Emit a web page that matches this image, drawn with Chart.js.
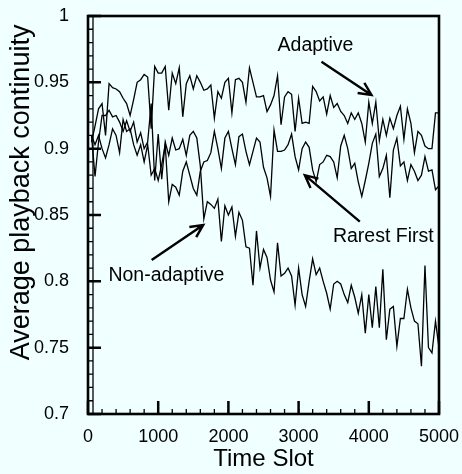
<!DOCTYPE html>
<html>
<head>
<meta charset="utf-8">
<script src="https://cdn.jsdelivr.net/npm/chart.js@4.4.1/dist/chart.umd.min.js"></script>
<style>
  html, body { margin: 0; padding: 0; background: #f0ffff; }
  #wrap { width: 462px; height: 474px; }
</style>
</head>
<body>
<div id="wrap"><canvas id="chart" width="462" height="474"></canvas></div>
<script>
// one sample every 50 time slots, first one at slot 50
const slotStep = 50;

const adaptive = [
  0.905, 0.917, 0.930, 0.934, 0.910, 0.949, 0.946, 0.945, 0.943, 0.938,
  0.934, 0.925, 0.937, 0.950, 0.952, 0.956, 0.954, 0.915, 0.962, 0.957,
  0.957, 0.962, 0.929, 0.957, 0.949, 0.961, 0.924, 0.949, 0.955, 0.945,
  0.955, 0.950, 0.944, 0.945, 0.948, 0.923, 0.943, 0.938, 0.950, 0.953,
  0.927, 0.952, 0.953, 0.950, 0.935, 0.961, 0.950, 0.939, 0.939, 0.940,
  0.928, 0.933, 0.940, 0.955, 0.918, 0.939, 0.943, 0.941, 0.913, 0.938,
  0.919, 0.920, 0.919, 0.947, 0.943, 0.936, 0.939, 0.926, 0.940, 0.931,
  0.934, 0.928, 0.925, 0.919, 0.927, 0.922, 0.927, 0.919, 0.905, 0.935,
  0.919, 0.935, 0.906, 0.922, 0.910, 0.923, 0.915, 0.925, 0.932, 0.907,
  0.930, 0.919, 0.897, 0.913, 0.910, 0.902, 0.900, 0.900, 0.927, 0.927
];
const rarestFirst = [
  0.910, 0.903, 0.910, 0.900, 0.893, 0.903, 0.915, 0.910, 0.897, 0.922,
  0.913, 0.915, 0.903, 0.895, 0.903, 0.890, 0.903, 0.880, 0.885, 0.876,
  0.888, 0.903, 0.860, 0.873, 0.871, 0.865, 0.883, 0.890, 0.880, 0.870,
  0.865, 0.883, 0.890, 0.891, 0.897, 0.913, 0.900, 0.885, 0.908, 0.913,
  0.900, 0.888, 0.909, 0.911, 0.898, 0.888, 0.898, 0.908, 0.905, 0.886,
  0.878, 0.864, 0.914, 0.898, 0.898, 0.899, 0.903, 0.911, 0.894, 0.884,
  0.900, 0.905, 0.901, 0.884, 0.875, 0.888, 0.890, 0.895, 0.894, 0.890,
  0.878, 0.902, 0.910, 0.900, 0.885, 0.889, 0.875, 0.864, 0.876, 0.889,
  0.904, 0.911, 0.879, 0.885, 0.895, 0.863, 0.899, 0.908, 0.887, 0.890,
  0.876, 0.888, 0.883, 0.876, 0.880, 0.894, 0.883, 0.884, 0.869, 0.872
];
const nonAdaptive = [
  0.910, 0.879, 0.905, 0.925, 0.925, 0.929, 0.924, 0.925, 0.920, 0.913,
  0.921, 0.913, 0.920, 0.905, 0.912, 0.900, 0.905, 0.934, 0.876, 0.911,
  0.877, 0.905, 0.895, 0.908, 0.899, 0.900, 0.907, 0.895, 0.910, 0.913,
  0.908, 0.887, 0.847, 0.860, 0.858, 0.855, 0.862, 0.830, 0.857, 0.850,
  0.856, 0.834, 0.852, 0.846, 0.826, 0.825, 0.797, 0.838, 0.810, 0.824,
  0.818, 0.801, 0.792, 0.829, 0.804, 0.806, 0.810, 0.804, 0.782, 0.810,
  0.790, 0.781, 0.800, 0.817, 0.805, 0.810, 0.800, 0.791, 0.779, 0.798,
  0.800, 0.798, 0.790, 0.784, 0.797, 0.788, 0.776, 0.790, 0.761, 0.790,
  0.765, 0.796, 0.765, 0.809, 0.756, 0.779, 0.781, 0.751, 0.772, 0.772,
  0.794, 0.780, 0.770, 0.768, 0.736, 0.812, 0.750, 0.746, 0.770, 0.750
];

const xTickLabels = ['0', '1000', '2000', '3000', '4000', '5000'];
const yTickLabels = ['0.7', '0.75', '0.8', '0.85', '0.9', '0.95', '1'];
const xTitle = 'Time Slot';
const yTitle = 'Average playback continuity';

// arrow labels, in data units (slot, continuity)
const notes = [
  { text: 'Adaptive', at: [3241, 0.9774], from: [3326, 0.9656], to: [4038, 0.9405] },
  { text: 'Rarest First', at: [4206, 0.8335], from: [3872, 0.8450], to: [3089, 0.8800] },
  { text: 'Non-adaptive', at: [1117, 0.8040], from: [907, 0.8160], to: [1641, 0.8425] }
];

const toPoints = arr => arr.map((v, i) => ({ x: (i + 1) * slotStep, y: v }));
const font = '"Liberation Sans", Arial, Helvetica, sans-serif';

const lineSet = (label, arr) => ({
  label,
  data: toPoints(arr),
  borderColor: '#000',
  borderWidth: 1.3,
  pointRadius: 0,
  tension: 0,
  fill: false
});

function arrow(ctx, x0, y0, x1, y1) {
  const ang = Math.atan2(y1 - y0, x1 - x0);
  const len = 14, spread = 0.45;
  ctx.beginPath();
  ctx.moveTo(x0, y0);
  ctx.lineTo(x1, y1);
  ctx.moveTo(x1 - len * Math.cos(ang - spread), y1 - len * Math.sin(ang - spread));
  ctx.lineTo(x1, y1);
  ctx.lineTo(x1 - len * Math.cos(ang + spread), y1 - len * Math.sin(ang + spread));
  ctx.stroke();
}

const framePlugin = {
  id: 'frame',
  beforeDraw(chart) {
    const { ctx, width, height } = chart;
    ctx.save();
    ctx.fillStyle = '#f0ffff';
    ctx.fillRect(0, 0, width, height);
    ctx.restore();
  },
  afterDraw(chart) {
    const { ctx, chartArea: a, scales: { x, y } } = chart;
    ctx.save();
    ctx.strokeStyle = '#000';
    ctx.lineCap = 'butt';

    // minor ticks, inward
    ctx.lineWidth = 1.3;
    ctx.beginPath();
    for (let k = 0; k <= 25; k++) {
      const px = x.getPixelForValue(k * 200);
      ctx.moveTo(px, a.bottom);
      ctx.lineTo(px, a.bottom - 5);
    }
    for (let k = 0; k <= 30; k++) {
      const py = y.getPixelForValue(0.7 + k * 0.01);
      ctx.moveTo(a.left, py);
      ctx.lineTo(a.left + 5, py);
    }
    // rail along the minor tick ends of the left axis
    ctx.moveTo(a.left + 5, a.top);
    ctx.lineTo(a.left + 5, a.bottom);
    ctx.stroke();

    // major ticks
    ctx.lineWidth = 2.5;
    ctx.beginPath();
    xTickLabels.forEach(t => {
      const px = x.getPixelForValue(Number(t));
      ctx.moveTo(px, a.bottom);
      ctx.lineTo(px, a.bottom - 13);
    });
    yTickLabels.forEach(t => {
      const py = y.getPixelForValue(Number(t));
      ctx.moveTo(a.left, py);
      ctx.lineTo(a.left + 13, py);
    });
    ctx.stroke();

    // box
    ctx.lineWidth = 2.6;
    ctx.strokeRect(a.left, a.top, a.right - a.left, a.bottom - a.top);

    // y title, sits a bit above the middle of the axis
    ctx.fillStyle = '#000';
    ctx.font = '27px ' + font;
    ctx.textAlign = 'center';
    ctx.textBaseline = 'middle';
    ctx.save();
    ctx.translate(22, y.getPixelForValue(0.867));
    ctx.rotate(-Math.PI / 2);
    ctx.fillText(yTitle, 0, 0);
    ctx.restore();

    // annotations
    ctx.font = '19.5px ' + font;
    ctx.lineWidth = 2.4;
    notes.forEach(n => {
      ctx.fillText(n.text, x.getPixelForValue(n.at[0]), y.getPixelForValue(n.at[1]));
      arrow(ctx,
        x.getPixelForValue(n.from[0]), y.getPixelForValue(n.from[1]),
        x.getPixelForValue(n.to[0]), y.getPixelForValue(n.to[1]));
    });
    ctx.restore();
  }
};

new Chart(document.getElementById('chart'), {
  type: 'line',
  data: {
    datasets: [
      lineSet('Adaptive', adaptive),
      lineSet('Rarest First', rarestFirst),
      lineSet('Non-adaptive', nonAdaptive)
    ]
  },
  options: {
    responsive: false,
    animation: false,
    devicePixelRatio: 1,
    layout: { padding: { top: 16, right: 23, left: 0, bottom: 0 } },
    plugins: { legend: { display: false }, tooltip: { enabled: false } },
    scales: {
      x: {
        type: 'linear',
        min: 0,
        max: 5000,
        afterBuildTicks: s => { s.ticks = xTickLabels.map(v => ({ value: Number(v) })); },
        afterFit: s => { s.height = 60; s.paddingLeft = 0; s.paddingRight = 0; },
        grid: { display: false, drawTicks: false },
        border: { display: false },
        ticks: {
          color: '#000',
          font: { family: font, size: 18 },
          padding: 12,
          maxRotation: 0,
          callback: (v, i) => xTickLabels[i]
        },
        title: {
          display: true,
          text: xTitle,
          color: '#000',
          font: { family: font, size: 24 },
          padding: { top: 8, bottom: 0 }
        }
      },
      y: {
        type: 'linear',
        min: 0.7,
        max: 1,
        afterBuildTicks: s => { s.ticks = yTickLabels.map(v => ({ value: Number(v) })); },
        afterFit: s => { s.width = 88; s.paddingTop = 0; s.paddingBottom = 0; },
        grid: { display: false, drawTicks: false },
        border: { display: false },
        ticks: {
          color: '#000',
          font: { family: font, size: 18 },
          padding: 19,
          callback: (v, i) => yTickLabels[i]
        }
      }
    }
  },
  plugins: [framePlugin]
});
</script>
</body>
</html>
